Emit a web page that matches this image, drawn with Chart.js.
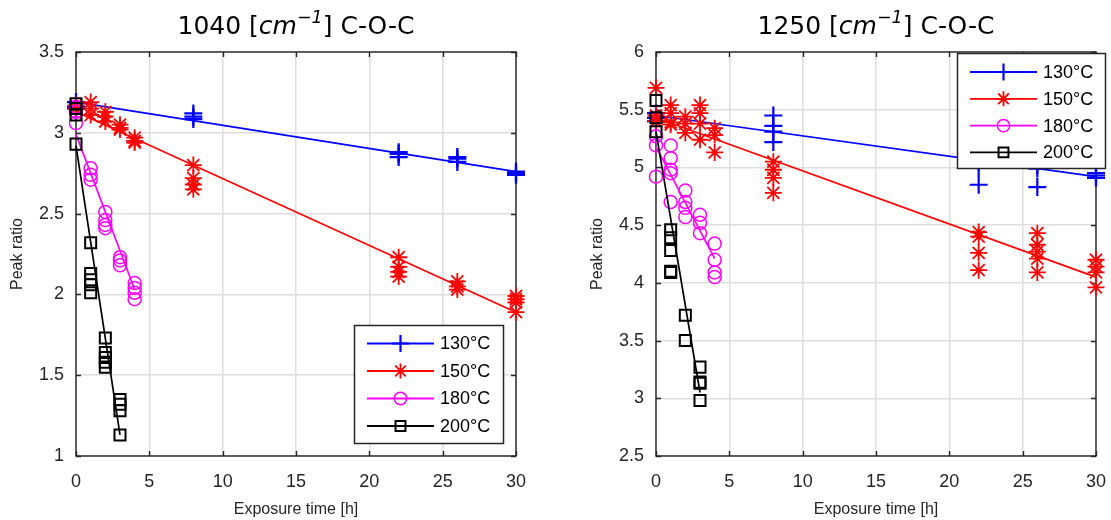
<!DOCTYPE html>
<html>
<head>
<meta charset="utf-8">
<script src="https://cdn.jsdelivr.net/npm/chart.js@4.4.1/dist/chart.umd.min.js"></script>
<style>
  html, body { margin: 0; padding: 0; background: #fff; }
  body { width: 1111px; height: 520px; overflow: hidden; position: relative; }
  .wrap { position: absolute; top: 0; width: 531px; height: 520px; }
  .title { position: absolute; top: 6px; width: 440px; text-align: center;
           font-family: "DejaVu Sans", sans-serif; font-size: 25px; line-height: 40px;
           color: #000; white-space: nowrap; }
  .title sup { font-size: 0.7em; line-height: 0; position: relative; top: -0.1em; }
</style>
</head>
<body>
<div class="wrap" style="left:0px"><canvas id="c1" width="531" height="520"></canvas></div>
<div class="wrap" style="left:580px"><canvas id="c2" width="531" height="520"></canvas></div>
<div class="title" style="left:76px">1040 [<i>cm<sup>−1</sup></i>] C-O-C</div>
<div class="title" style="left:656px">1250 [<i>cm<sup>−1</sup></i>] C-O-C</div>
<script>
// ---------------- data ----------------
const seriesNames = ['130°C', '150°C', '180°C', '200°C'];
const xTicks = [0, 5, 10, 15, 20, 25, 30];
const leftYTicks = [1, 1.5, 2, 2.5, 3, 3.5];
const rightYTicks = [2.5, 3, 3.5, 4, 4.5, 5, 5.5, 6];

// 1040 cm-1 : measured peak ratios [time h, ratio]
const left130 = [[0,3.19],[0,3.16],[0,3.15],[8,3.12],[8,3.10],[8,3.085],
  [22,2.88],[22,2.87],[22,2.85],[26,2.85],[26,2.84],[26,2.82],[30,2.76],[30,2.75],[30,2.74]];
const left150 = [[0,3.17],[0,3.15],[1,3.19],[1,3.15],[1,3.11],[2,3.13],[2,3.10],[2,3.07],
  [3,3.05],[3,3.03],[3,3.02],[4,2.97],[4,2.95],[4,2.94],
  [8,2.80],[8,2.72],[8,2.68],[8,2.65],[22,2.23],[22,2.17],[22,2.14],[22,2.11],
  [26,2.08],[26,2.05],[26,2.03],[30,1.99],[30,1.97],[30,1.95],[30,1.89]];
const left180 = [[0,3.16],[0,3.13],[0,3.06],[1,2.78],[1,2.74],[1,2.71],
  [2,2.51],[2,2.46],[2,2.43],[2,2.41],[3,2.23],[3,2.21],[3,2.18],
  [4,2.07],[4,2.04],[4,2.01],[4,1.97]];
const left200 = [[0,3.18],[0,3.15],[0,3.11],[0,2.93],[1,2.32],[1,2.13],[1,2.09],[1,2.06],[1,2.01],
  [2,1.73],[2,1.64],[2,1.61],[2,1.58],[2,1.55],[3,1.35],[3,1.32],[3,1.28],[3,1.13]];
// linear fits
const left130Fit = [[0,3.19],[30,2.76]];
const left150Fit = [[0,3.13],[30,1.89]];
const left180Fit = [[0,2.99],[4,2.03]];
const left200Fit = [[0,2.92],[3,1.13]];

// 1250 cm-1
const right130 = [[0,5.47],[0,5.43],[0,5.40],[8,5.45],[8,5.36],[8,5.31],[8,5.22],
  [22,5.05],[22,5.00],[22,4.85],[26,5.02],[26,4.99],[26,4.83],[30,4.95],[30,4.93],[30,4.91]];
const right150 = [[0,5.69],[0,5.45],[0,5.40],[1,5.54],[1,5.47],[1,5.39],[1,5.37],
  [2,5.44],[2,5.38],[2,5.30],[3,5.54],[3,5.47],[3,5.38],[3,5.24],[4,5.34],[4,5.28],[4,5.13],
  [8,5.05],[8,4.98],[8,4.91],[8,4.78],[22,4.44],[22,4.40],[22,4.26],[22,4.11],
  [26,4.43],[26,4.33],[26,4.27],[26,4.21],[26,4.09],[30,4.20],[30,4.14],[30,4.09],[30,3.96]];
const right180 = [[0,5.27],[0,5.19],[0,4.92],[1,5.19],[1,5.08],[1,4.98],[1,4.95],[1,4.70],
  [2,4.80],[2,4.70],[2,4.65],[2,4.57],[3,4.59],[3,4.52],[3,4.43],
  [4,4.34],[4,4.20],[4,4.09],[4,4.05]];
const right200 = [[0,5.58],[0,5.43],[0,5.31],[1,4.46],[1,4.39],[1,4.28],[1,4.10],[1,4.09],
  [2,3.72],[2,3.50],[3,3.27],[3,3.14],[3,3.13],[3,2.98]];
const right130Fit = [[0,5.45],[30,4.92]];
const right150Fit = [[0,5.43],[30,4.05]];
const right180Fit = [[0,5.18],[4,4.21]];
const right200Fit = [[0,5.31],[3,3.05]];

// ---------------- styles ----------------
const seriesColors = ['#0000ff', '#ff0000', '#ff00ff', '#000000'];
const seriesMarkers = ['cross', 'star', 'circle', 'rect'];
const markerRadius = [9, 8.5, 6.5, 7.8];
const markerWidth = [2.2, 1.8, 1.5, 2];
const AXIS = '#262626';
const GRID = '#dedede';
const TICKFONT = { family: '"Liberation Sans", Arial, sans-serif', size: 18 };
const LABELFONT = { family: '"Liberation Sans", Arial, sans-serif', size: 16 };

function pts(arr) { return arr.map(p => ({ x: p[0], y: p[1] })); }

function buildDatasets(points, fits) {
  const ds = [];
  // index 0 drawn on top, so highest temperature first
  for (let i = points.length - 1; i >= 0; i--) {
    ds.push({
      type: 'scatter', data: pts(points[i]), showLine: false,
      pointStyle: seriesMarkers[i], pointRadius: markerRadius[i], pointHoverRadius: markerRadius[i],
      pointBorderColor: seriesColors[i], pointBackgroundColor: 'rgba(0,0,0,0)',
      pointBorderWidth: markerWidth[i], clip: false
    });
    ds.push({
      type: 'line', data: pts(fits[i]), showLine: true, borderColor: seriesColors[i],
      borderWidth: 1.7, pointRadius: 0, fill: false, tension: 0, clip: false
    });
  }
  return ds;
}

function drawMarker(ctx, style, x, y, r, color, lw) {
  ctx.save();
  ctx.strokeStyle = color; ctx.lineWidth = lw; ctx.beginPath();
  if (style === 'cross' || style === 'star') {
    ctx.moveTo(x - r, y); ctx.lineTo(x + r, y);
    ctx.moveTo(x, y - r); ctx.lineTo(x, y + r);
  }
  if (style === 'star') {
    const d = r * Math.SQRT1_2;
    ctx.moveTo(x - d, y - d); ctx.lineTo(x + d, y + d);
    ctx.moveTo(x - d, y + d); ctx.lineTo(x + d, y - d);
  }
  if (style === 'circle') ctx.arc(x, y, r, 0, Math.PI * 2);
  if (style === 'rect') { const h = r * Math.SQRT1_2; ctx.rect(x - h, y - h, 2 * h, 2 * h); }
  ctx.stroke();
  ctx.restore();
}

const boxPlugin = {
  id: 'matlabBox',
  beforeDatasetsDraw(chart) {
    const { ctx, chartArea: a, scales } = chart;
    ctx.save();
    ctx.strokeStyle = AXIS; ctx.lineWidth = 1.4;
    ctx.strokeRect(a.left, a.top, a.right - a.left, a.bottom - a.top);
    ctx.beginPath();
    const tl = 5;
    scales.x.ticks.forEach(t => {
      const px = Math.round(scales.x.getPixelForValue(t.value)) + 0.5;
      ctx.moveTo(px, a.bottom); ctx.lineTo(px, a.bottom - tl);
      ctx.moveTo(px, a.top); ctx.lineTo(px, a.top + tl);
    });
    scales.y.ticks.forEach(t => {
      const py = Math.round(scales.y.getPixelForValue(t.value)) + 0.5;
      ctx.moveTo(a.left, py); ctx.lineTo(a.left + tl, py);
      ctx.moveTo(a.right, py); ctx.lineTo(a.right - tl, py);
    });
    ctx.stroke();
    ctx.restore();
  }
};

const legendPlugin = {
  id: 'matlabLegend',
  afterDraw(chart, args, opts) {
    const { ctx, chartArea: a } = chart;
    const w = opts.width, h = opts.height;
    const left = opts.anchor === 'se' ? a.right - opts.dx - w : a.right + opts.dx - w;
    const top = opts.anchor === 'se' ? a.bottom - opts.dy - h : a.top + opts.dy;
    ctx.save();
    ctx.fillStyle = '#fff';
    ctx.fillRect(left, top, w, h);
    ctx.strokeStyle = AXIS; ctx.lineWidth = 1.5;
    ctx.strokeRect(left + 0.5, top + 0.5, w, h);
    ctx.font = '18px "Liberation Sans", Arial, sans-serif';
    ctx.textBaseline = 'middle'; ctx.textAlign = 'left';
    seriesNames.forEach((name, i) => {
      const y = top + opts.firstRow + i * opts.rowGap;
      ctx.strokeStyle = seriesColors[i]; ctx.lineWidth = 1.8;
      ctx.beginPath(); ctx.moveTo(left + 13, y); ctx.lineTo(left + 80, y); ctx.stroke();
      const mr = [8.5, 7.5, 6.2, 7][i];
      drawMarker(ctx, seriesMarkers[i], left + 46.5, y, mr, seriesColors[i], markerWidth[i]);
      ctx.fillStyle = '#000';
      ctx.fillText(name, left + 86, y + 1);
    });
    ctx.restore();
  }
};

function makeChart(id, points, fits, yTicks, yMin, yMax, legendOpts) {
  const tickSetter = arr => scale => { scale.ticks = arr.map(v => ({ value: v })); };
  return new Chart(document.getElementById(id), {
    type: 'scatter',
    data: { datasets: buildDatasets(points, fits) },
    plugins: [boxPlugin, legendPlugin],
    options: {
      responsive: false, animation: false, events: [],
      layout: { padding: { left: 0, right: 15, top: 52, bottom: 0 } },
      plugins: { legend: { display: false }, tooltip: { enabled: false }, matlabLegend: legendOpts },
      scales: {
        x: {
          type: 'linear', min: 0, max: 30,
          afterBuildTicks: tickSetter(xTicks),
          afterFit: s => { s.height = 64; s.paddingLeft = 0; s.paddingRight = 0; },
          grid: { color: GRID, lineWidth: 1.5, drawTicks: false },
          border: { display: false },
          ticks: { font: TICKFONT, color: AXIS, padding: 15, maxRotation: 0, callback: v => String(v) },
          title: { display: true, text: 'Exposure time [h]', font: LABELFONT, color: AXIS, padding: { top: 0, bottom: 1 } }
        },
        y: {
          type: 'linear', min: yMin, max: yMax,
          afterBuildTicks: tickSetter(yTicks),
          afterFit: s => { s.width = 76; s.paddingTop = 0; s.paddingBottom = 0; },
          grid: { color: GRID, lineWidth: 1.5, drawTicks: false },
          border: { display: false },
          ticks: { font: TICKFONT, color: AXIS, padding: 12, callback: v => String(v) },
          title: { display: true, text: 'Peak ratio', font: LABELFONT, color: AXIS, padding: { top: 8, bottom: 0 } }
        }
      }
    }
  });
}

makeChart('c1', [left130, left150, left180, left200], [left130Fit, left150Fit, left180Fit, left200Fit],
  leftYTicks, 1, 3.5,
  { anchor: 'se', dx: 13, dy: 13, width: 149, height: 118, firstRow: 18.5, rowGap: 27.5 });
makeChart('c2', [right130, right150, right180, right200], [right130Fit, right150Fit, right180Fit, right200Fit],
  rightYTicks, 2.5, 6,
  { anchor: 'ne', dx: 9, dy: 1, width: 148, height: 115, firstRow: 19, rowGap: 26.8 });
</script>
</body>
</html>
